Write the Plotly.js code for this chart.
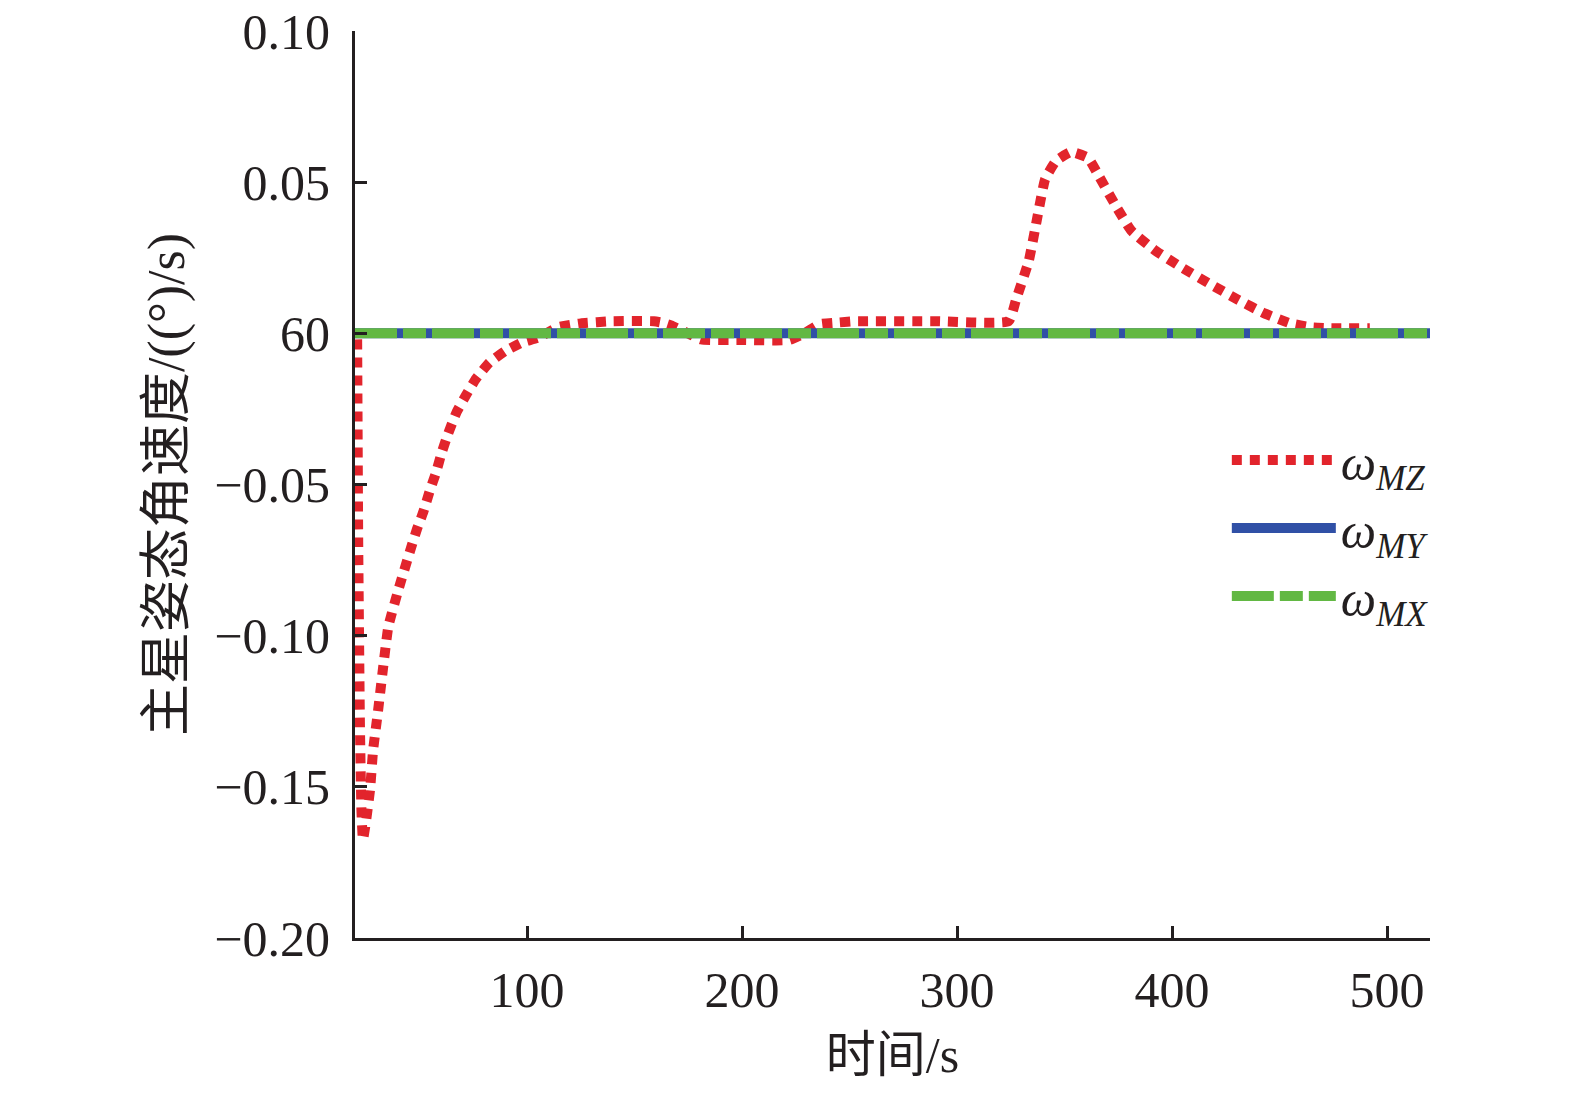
<!DOCTYPE html>
<html>
<head>
<meta charset="utf-8">
<script src="https://cdn.plot.ly/plotly-3.0.1.min.js"></script>
<style>html,body{margin:0;padding:0;background:#fff;}#chart{width:1575px;height:1096px;}</style>
</head>
<body>
<div id="chart"></div>
<script>
// Time axis (s) and series values
const timeMZ = [21, 21.5, 22.3, 23, 23.7, 25, 27, 28.4, 30.7, 33, 35.5, 40.1, 45.6, 48.7, 51.8, 54.6, 57.7, 60.3, 63.4, 67.3, 71.6, 76.3, 82.5, 89.8, 98, 105, 114.4, 125, 140, 159, 163, 167, 174, 181, 200, 222, 229, 236, 245, 253, 290, 324, 327.4, 333.4, 337, 341, 346, 353, 361, 366, 374, 381, 392, 404, 417, 431, 443, 455, 465, 474, 492];
const omegaMZ = [-0.002, -0.07, -0.13, -0.158, -0.1675, -0.162, -0.151, -0.138, -0.125, -0.111, -0.097, -0.085, -0.072, -0.065, -0.059, -0.0525, -0.046, -0.0395, -0.033, -0.026, -0.0205, -0.015, -0.0097, -0.0059, -0.0029, -0.0015, 0.002, 0.0033, 0.004, 0.004, 0.0035, 0.0026, 0.0003, -0.002, -0.0022, -0.0022, 0.0, 0.003, 0.0036, 0.004, 0.004, 0.004, 0.011, 0.024, 0.037, 0.051, 0.057, 0.060, 0.058, 0.052, 0.042, 0.034, 0.0275, 0.022, 0.0166, 0.011, 0.0066, 0.0033, 0.002, 0.0017, 0.0017];
const timeMY = [20, 520];
const omegaMY = [0, 0];
const timeMX = [20, 520];
const omegaMX = [0, 0];

const seriesNames = ['<i>ω</i><sub><i>MZ</i></sub>', '<i>ω</i><sub><i>MY</i></sub>', '<i>ω</i><sub><i>MX</i></sub>'];
const xTickVals = [100, 200, 300, 400, 500];
const xTickText = ['100', '200', '300', '400', '500'];
const yTickVals = [-0.20, -0.15, -0.10, -0.05, 0, 0.05, 0.10];
const yTickText = ['−0.20', '−0.15', '−0.10', '−0.05', '60', '0.05', '0.10'];
const xTitle = '时间/s';
const yTitle = '主星姿态角速度/((°)/s)';

const serif = 'Liberation Serif, Times New Roman, Noto Sans CJK SC, serif';
const axisColor = '#231f20';

const traces = [
  {x: timeMZ, y: omegaMZ, name: seriesNames[0], mode: 'lines', line: {color: '#e2242c', width: 10, dash: '10px,8px', shape: 'spline', smoothing: 0.4}},
  {x: timeMY, y: omegaMY, name: seriesNames[1], mode: 'lines', line: {color: '#3050a6', width: 10}},
  {x: timeMX, y: omegaMX, name: seriesNames[2], mode: 'lines', line: {color: '#62b843', width: 10, dash: '42px,6px,23px,6px'}}
];

const layout = {
  width: 1575, height: 1096,
  margin: {l: 355, r: 145, t: 31, b: 158},
  paper_bgcolor: '#fff', plot_bgcolor: '#fff',
  font: {family: serif, color: axisColor, size: 48},
  showlegend: true,
  legend: {x: 0.811, y: 0.57, xanchor: 'left', yanchor: 'top', bgcolor: 'rgba(0,0,0,0)', itemwidth: 104, font: {size: 50, family: serif}, tracegroupgap: 0},
  xaxis: {
    range: [20, 520], tickmode: 'array', tickvals: xTickVals, ticktext: xTickText,
    ticks: 'inside', ticklen: 12, tickwidth: 3, tickcolor: axisColor,
    showline: true, linewidth: 3, linecolor: axisColor, showgrid: false, zeroline: false,
    ticklabelstandoff: 6,
    tickfont: {size: 50, family: serif},
    title: {text: xTitle, font: {size: 50, family: serif}, standoff: 20}
  },
  yaxis: {
    range: [-0.20, 0.10], tickmode: 'array', tickvals: yTickVals, ticktext: yTickText,
    ticks: 'inside', ticklen: 12, tickwidth: 3, tickcolor: axisColor,
    showline: true, linewidth: 3, linecolor: axisColor, showgrid: false, zeroline: false,
    ticklabelstandoff: 12,
    tickfont: {size: 50, family: serif},
    title: {text: yTitle, font: {size: 52, family: serif}, standoff: 14}
  }
};

Plotly.newPlot('chart', traces, layout, {staticPlot: true, displayModeBar: false});
</script>
</body>
</html>
